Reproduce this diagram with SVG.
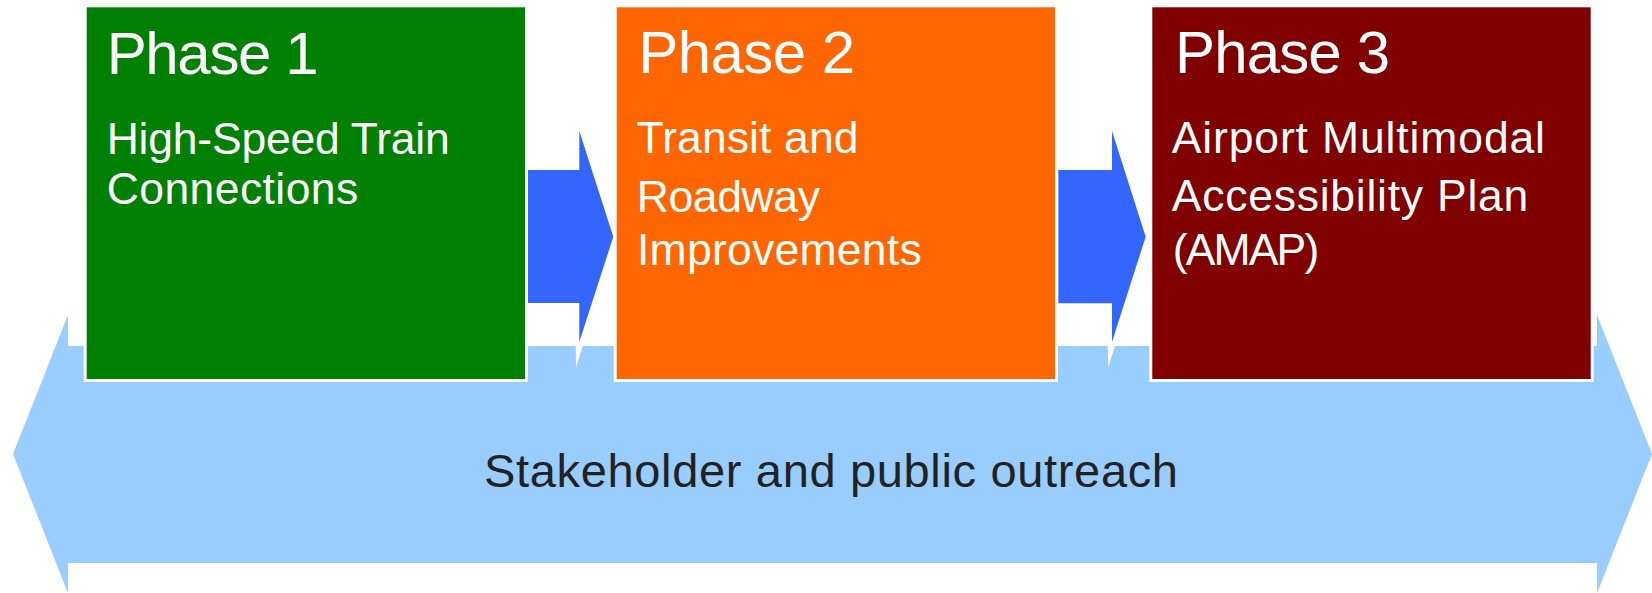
<svg xmlns="http://www.w3.org/2000/svg" width="1652" height="593" viewBox="0 0 1652 593">
  <style>
    text { font-family: "Liberation Sans", Arial, Helvetica, sans-serif; }
    .box { stroke: #FFFFFF; stroke-width: 3; }
    .title { fill: #FFFFFF; font-size: 60px; }
    .sub { fill: #FFFFFF; font-size: 44.5px; }
    .band { fill: #99CCFF; }
    .flow { fill: #3366FF; }
    .bandtext { fill: #222222; font-size: 47px; }
  </style>
  <rect width="1652" height="593" fill="#FFFFFF"/>
  <g id="outreach">
    <path class="band" d="M13,454 L68,315 L68,346 L575.7,346 L576,368 L582.7,346 L1107.7,346 L1108.3,367 L1115,346 L1597,346 L1597,315 L1652,454 L1597,593 L1597,563 L68,563 L68,593 Z"/>
    <text class="bandtext" x="484" y="486.7" textLength="694" lengthAdjust="spacing">Stakeholder and public outreach</text>
  </g>
  <g id="connectors">
    <polygon class="flow" points="528,170 579.3,170 579.3,131 613.3,236.7 579.3,342 579.3,303 528,303"/>
    <polygon class="flow" points="1058.3,170 1112,170 1112,131 1145.7,236.7 1112,342 1112,303.3 1058.3,303.3"/>
  </g>
  <g id="phase1">
    <rect class="box" x="85.2" y="5.8" width="441.3" height="374.7" fill="#008000"/>
    <text class="title" x="106.7" y="74" textLength="212" lengthAdjust="spacing">Phase 1</text>
    <text class="sub" x="106.7" y="153.5" textLength="343" lengthAdjust="spacing">High-Speed Train</text>
    <text class="sub" x="106.7" y="203.5" textLength="251.5" lengthAdjust="spacing">Connections</text>
  </g>
  <g id="phase2">
    <rect class="box" x="615.2" y="5.8" width="441.3" height="374.7" fill="#FF6600"/>
    <text class="title" x="638.3" y="73.3" textLength="216.7" lengthAdjust="spacing">Phase 2</text>
    <text class="sub" x="636.5" y="153.3" textLength="222" lengthAdjust="spacing">Transit and</text>
    <text class="sub" x="636.7" y="211.7" textLength="183.3" lengthAdjust="spacing">Roadway</text>
    <text class="sub" x="637" y="265" textLength="284.7" lengthAdjust="spacing">Improvements</text>
  </g>
  <g id="phase3">
    <rect class="box" x="1150.8" y="5.8" width="441.4" height="374.7" fill="#800000"/>
    <text class="title" x="1175" y="73.3" textLength="215" lengthAdjust="spacing">Phase 3</text>
    <text class="sub" x="1171.7" y="153.3" textLength="373.3" lengthAdjust="spacing">Airport Multimodal</text>
    <text class="sub" x="1171.7" y="210.5" textLength="356.6" lengthAdjust="spacing">Accessibility Plan</text>
    <text class="sub" x="1172.7" y="265" textLength="146.6" lengthAdjust="spacing">(AMAP)</text>
  </g>
</svg>
